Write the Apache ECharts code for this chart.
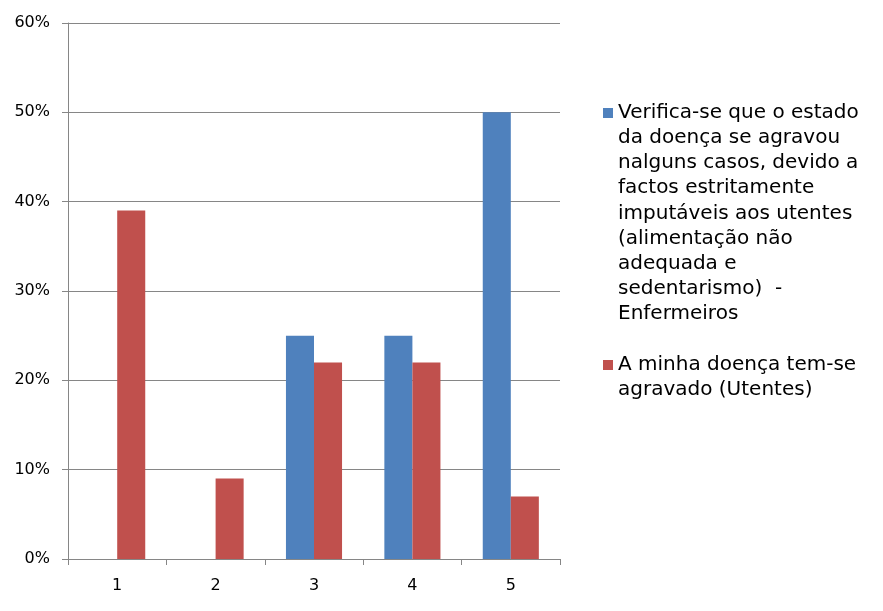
<!DOCTYPE html>
<html>
<head>
<meta charset="utf-8">
<script src="https://cdn.jsdelivr.net/npm/echarts@6/dist/echarts.min.js"></script>
<style>html,body{margin:0;padding:0;background:#fff}#c{width:883px;height:611px}</style>
</head>
<body>
<div id="c"></div>
<script>
const categories = ['1', '2', '3', '4', '5'];
const seriesNames = [
  'Verifica-se que o estado\nda doença se agravou\nnalguns casos, devido a\nfactos estritamente\nimputáveis aos utentes\n(alimentação não\nadequada e\nsedentarismo)  -\nEnfermeiros',
  'A minha doença tem-se\nagravado (Utentes)'
];
const enfermeiros = [0, 0, 25, 25, 50];
const utentes = [39, 9, 22, 22, 7];
const yTicks = { min: 0, max: 60, interval: 10 };

const font = 'DejaVu Sans, Verdana, sans-serif';
const chart = echarts.init(document.getElementById('c'), null, { renderer: 'canvas' });
const axisColor = '#868686';
const LH = 25.2;
function iconPath(h) {
  return 'path://M0,0L0.01,0M0,8L10,8L10,18L0,18ZM10,' + h + 'L9.99,' + h;
}
chart.setOption({
  animation: false,
  backgroundColor: '#fff',
  grid: { left: 68, right: 323, top: 23, bottom: 52, containLabel: false },
  legend: [
    {
      data: [{ name: seriesNames[0], icon: iconPath(9 * LH) }],
      left: 603, top: 100, padding: 0,
      itemWidth: 10, itemHeight: 9 * LH,
      textStyle: { fontFamily: font, fontSize: 20, color: '#000', lineHeight: LH },
      selectedMode: false
    },
    {
      data: [{ name: seriesNames[1], icon: iconPath(2 * LH) }],
      left: 603, top: 352, padding: 0,
      itemWidth: 10, itemHeight: 2 * LH,
      textStyle: { fontFamily: font, fontSize: 20, color: '#000', lineHeight: LH },
      selectedMode: false
    }
  ],
  xAxis: {
    type: 'category',
    data: categories,
    axisLine: { lineStyle: { color: axisColor, width: 1 } },
    axisTick: { show: true, length: 6, alignWithLabel: false, lineStyle: { color: axisColor } },
    axisLabel: { fontFamily: font, fontSize: 16, color: '#000', margin: 19 },
    splitLine: { show: false }
  },
  yAxis: {
    type: 'value',
    min: yTicks.min, max: yTicks.max, interval: yTicks.interval,
    axisLine: { show: true, lineStyle: { color: axisColor, width: 1 } },
    axisTick: { show: true, length: 6, lineStyle: { color: axisColor } },
    axisLabel: { fontFamily: font, fontSize: 16, color: '#000', margin: 18, formatter: '{value}%' },
    splitLine: { show: true, lineStyle: { color: axisColor, width: 1 } }
  },
  series: [
    {
      name: seriesNames[0], type: 'bar', data: enfermeiros,
      itemStyle: { color: '#4F81BD' },
      barGap: '0%', barCategoryGap: '43%'
    },
    {
      name: seriesNames[1], type: 'bar', data: utentes,
      itemStyle: { color: '#C0504D' },
      barGap: '0%', barCategoryGap: '43%'
    }
  ]
});
</script>
</body>
</html>
